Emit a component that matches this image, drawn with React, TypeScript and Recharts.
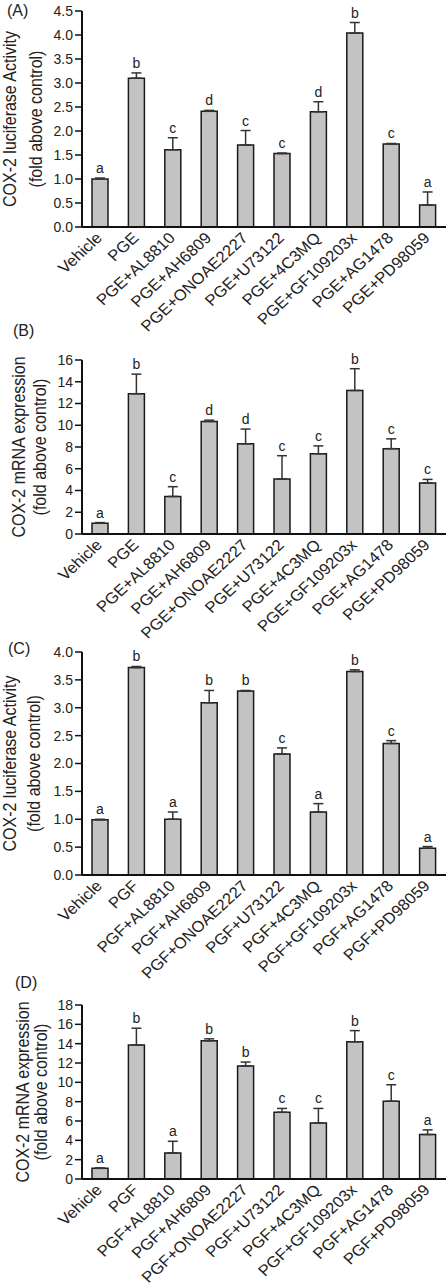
import { BarChart, Bar, XAxis, YAxis, ErrorBar, LabelList } from "recharts";

const pgeGroups = [
  "Vehicle",
  "PGE",
  "PGE+AL8810",
  "PGE+AH6809",
  "PGE+ONOAE2227",
  "PGE+U73122",
  "PGE+4C3MQ",
  "PGE+GF109203x",
  "PGE+AG1478",
  "PGE+PD98059",
];

const pgfGroups = [
  "Vehicle",
  "PGF",
  "PGF+AL8810",
  "PGF+AH6809",
  "PGF+ONOAE2227",
  "PGF+U73122",
  "PGF+4C3MQ",
  "PGF+GF109203x",
  "PGF+AG1478",
  "PGF+PD98059",
];

// (A) luciferase, PGE
const lucPGE = [1.0, 3.1, 1.61, 2.41, 1.71, 1.53, 2.4, 4.04, 1.73, 0.46];
const lucPGEErr = [0.02, 0.11, 0.25, 0.02, 0.3, 0.01, 0.21, 0.22, 0.01, 0.27];
const lucPGELetters = ["a", "b", "c", "d", "c", "c", "d", "b", "c", "a"];

// (B) mRNA, PGE
const mrnaPGE = [1.0, 12.9, 3.45, 10.35, 8.3, 5.05, 7.38, 13.2, 7.85, 4.7];
const mrnaPGEErr = [0.05, 1.8, 0.9, 0.12, 1.35, 2.15, 0.72, 2.0, 0.9, 0.32];
const mrnaPGELetters = ["a", "b", "c", "d", "d", "c", "c", "b", "c", "c"];

// (C) luciferase, PGF
const lucPGF = [0.99, 3.72, 1.0, 3.09, 3.3, 2.17, 1.13, 3.65, 2.36, 0.48];
const lucPGFErr = [0.01, 0.02, 0.13, 0.22, 0.01, 0.11, 0.15, 0.03, 0.05, 0.03];
const lucPGFLetters = ["a", "b", "a", "b", "b", "c", "a", "b", "c", "a"];

// (D) mRNA, PGF
const mrnaPGF = [1.1, 13.85, 2.7, 14.3, 11.7, 6.9, 5.8, 14.2, 8.05, 4.6];
const mrnaPGFErr = [0.05, 1.75, 1.2, 0.2, 0.4, 0.4, 1.5, 1.15, 1.7, 0.48];
const mrnaPGFLetters = ["a", "b", "a", "b", "b", "c", "c", "b", "c", "a"];

const lucTicksA = [0, 0.5, 1, 1.5, 2, 2.5, 3, 3.5, 4, 4.5];
const lucTicksC = [0, 0.5, 1, 1.5, 2, 2.5, 3, 3.5, 4];
const mrnaTicksB = [0, 2, 4, 6, 8, 10, 12, 14, 16];
const mrnaTicksD = [0, 2, 4, 6, 8, 10, 12, 14, 16, 18];

const FONT = "'Liberation Sans', Arial, sans-serif";

type Row = { name: string; value: number; err: number[]; letter: string };

const makeRows = (names: string[], vals: number[], errs: number[], letters: string[]): Row[] =>
  names.map((name, i) => ({ name, value: vals[i], err: [0, errs[i]], letter: letters[i] }));

// rotated category label, slightly widened like the source figure
const CategoryTick = (props: any) => {
  const { x, y, payload } = props;
  const ax = x + 3;
  const ay = y + 10;
  return (
    <text
      x={0}
      y={0}
      textAnchor="end"
      fontSize={15.5}
      fontFamily={FONT}
      fill="#222"
      transform={`translate(${ax}, ${ay}) scale(1.08, 1) rotate(-45)`}
    >
      {payload.value}
    </text>
  );
};

type PanelProps = {
  tag: string;
  top: number;
  height: number;
  marginTop: number;
  xAxisHeight: number;
  rows: Row[];
  ticks: number[];
  decimals: number;
  line1: string;
  line2: string;
  labelX: [number, number];
  tagPos: [number, number];
};

const Panel = (p: PanelProps) => {
  const max = p.ticks[p.ticks.length - 1];

  const renderLetter = (props: any) => {
    const vb = props.viewBox || props;
    const { x, y, width, height } = vb;
    const row = p.rows[props.index];
    if (!row) return null;
    const perUnit = height / row.value;
    const top = y - row.err[1] * perUnit;
    return (
      <text x={x + width / 2} y={top - 5} textAnchor="middle" fontSize={14} fontFamily={FONT} fill="#222">
        {row.letter}
      </text>
    );
  };

  const renderYLabel = (props: any) => {
    const vb = props.viewBox;
    const cy = vb.y + vb.height / 2;
    return (
      <g fontSize={16} fontFamily={FONT} fill="#222">
        {[p.line1, p.line2].map((txt, i) => (
          <text
            key={i}
            x={0}
            y={0}
            textAnchor="middle"
            dominantBaseline="central"
            transform={`translate(${p.labelX[i]}, ${cy}) scale(1.12, 1) rotate(-90)`}
          >
            {txt}
          </text>
        ))}
      </g>
    );
  };

  return (
    <div style={{ position: "absolute", left: 0, top: p.top, width: 446, height: p.height }}>
      <div
        style={{
          position: "absolute",
          left: p.tagPos[0],
          top: p.tagPos[1],
          fontFamily: FONT,
          fontSize: 16,
          color: "#222",
          lineHeight: 1,
        }}
      >
        {p.tag}
      </div>
      <BarChart
        width={446}
        height={p.height}
        data={p.rows}
        margin={{ top: p.marginTop, right: 0, bottom: 0, left: 0 }}
        barCategoryGap={0}
      >
        <XAxis
          dataKey="name"
          interval={0}
          height={p.xAxisHeight}
          tickLine={false}
          tickSize={0}
          tickMargin={2}
          axisLine={{ stroke: "#111", strokeWidth: 2 }}
          tick={<CategoryTick />}
        />
        <YAxis
          width={82}
          domain={[0, max]}
          ticks={p.ticks}
          allowDataOverflow
          interval={0}
          tickSize={7}
          tickMargin={2}
          tickLine={{ stroke: "#111", strokeWidth: 1.5 }}
          axisLine={{ stroke: "#111", strokeWidth: 2 }}
          tick={{ fontSize: 14, fontFamily: FONT, fill: "#222" }}
          tickFormatter={(v: number) => v.toFixed(p.decimals)}
          label={{ content: renderYLabel }}
        />
        <Bar dataKey="value" barSize={16} fill="#c3c3c3" stroke="#1a1a1a" strokeWidth={1.5} isAnimationActive={false}>
          <ErrorBar dataKey="err" width={5} stroke="#333" strokeWidth={1.5} direction="y" />
          <LabelList dataKey="letter" content={renderLetter} />
        </Bar>
      </BarChart>
    </div>
  );
};

export default function App() {
  return (
    <div style={{ position: "absolute", left: 0, top: 0, width: 446, height: 1286, background: "#fff" }}>
      <Panel
        tag="(A)"
        top={0}
        height={345}
        marginTop={11}
        xAxisHeight={118}
        rows={makeRows(pgeGroups, lucPGE, lucPGEErr, lucPGELetters)}
        ticks={lucTicksA}
        decimals={1}
        line1="COX-2 luciferase Activity"
        line2="(fold above control)"
        labelX={[10, 36]}
        tagPos={[7, 3]}
      />
      <Panel
        tag="(B)"
        top={320}
        height={345}
        marginTop={40}
        xAxisHeight={131}
        rows={makeRows(pgeGroups, mrnaPGE, mrnaPGEErr, mrnaPGELetters)}
        ticks={mrnaTicksB}
        decimals={0}
        line1="COX-2 mRNA expression"
        line2="(fold above control)"
        labelX={[19, 40]}
        tagPos={[13, 3]}
      />
      <Panel
        tag="(C)"
        top={640}
        height={360}
        marginTop={12}
        xAxisHeight={125}
        rows={makeRows(pgfGroups, lucPGF, lucPGFErr, lucPGFLetters)}
        ticks={lucTicksC}
        decimals={1}
        line1="COX-2 luciferase Activity"
        line2="(fold above control)"
        labelX={[10, 34]}
        tagPos={[8, 1]}
      />
      <Panel
        tag="(D)"
        top={960}
        height={326}
        marginTop={45}
        xAxisHeight={107}
        rows={makeRows(pgfGroups, mrnaPGF, mrnaPGFErr, mrnaPGFLetters)}
        ticks={mrnaTicksD}
        decimals={0}
        line1="COX-2 mRNA expression"
        line2="(fold above control)"
        labelX={[23, 41]}
        tagPos={[15, 15]}
      />
    </div>
  );
}
